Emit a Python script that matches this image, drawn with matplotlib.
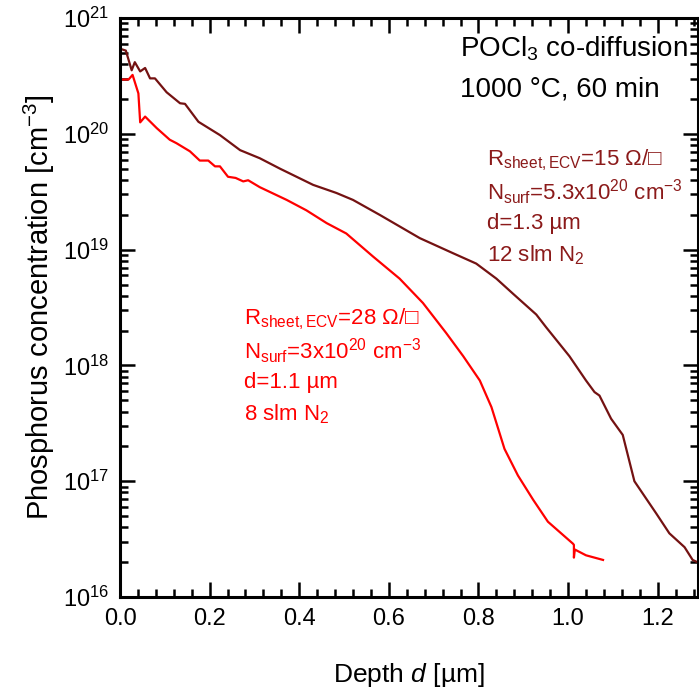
import matplotlib
matplotlib.use('Agg')
import matplotlib.pyplot as plt
from matplotlib.ticker import MultipleLocator, LogLocator, NullFormatter

plt.rcParams['font.family'] = ['Liberation Sans', 'DejaVu Sans']
plt.rcParams['mathtext.fontset'] = 'custom'
plt.rcParams['mathtext.rm'] = 'Liberation Sans'
plt.rcParams['mathtext.it'] = 'Liberation Sans:italic'
plt.rcParams['mathtext.fallback'] = 'stix'

# Profil ECV, 12 slm N2 (dunkelrot)
depth_12 = [0.005, 0.013, 0.026, 0.033, 0.045, 0.056, 0.067, 0.078, 0.104, 0.134,
            0.145, 0.175, 0.223, 0.268, 0.312, 0.357, 0.431, 0.483, 0.52, 0.58,
            0.669, 0.743, 0.795, 0.84, 0.877, 0.929, 0.951, 1.003, 1.04, 1.059,
            1.07, 1.096, 1.122, 1.148, 1.197, 1.226, 1.26, 1.278, 1.289]
logc_12 = [20.73, 20.72, 20.55, 20.62, 20.54, 20.57, 20.48, 20.48, 20.36, 20.265,
           20.26, 20.105, 19.99, 19.86, 19.79, 19.70, 19.56, 19.49, 19.43, 19.30,
           19.10, 18.97, 18.88, 18.75, 18.62, 18.44, 18.33, 18.08, 17.87, 17.77,
           17.74, 17.54, 17.40, 17.00, 16.72, 16.55, 16.43, 16.32, 16.30]

# Profil ECV, 8 slm N2 (rot)
depth_8 = [0.005, 0.019, 0.028, 0.041, 0.045, 0.056, 0.082, 0.111, 0.126, 0.156,
           0.178, 0.197, 0.212, 0.223, 0.241, 0.258, 0.275, 0.286, 0.312, 0.372,
           0.416, 0.461, 0.505, 0.565, 0.624, 0.676, 0.728, 0.766, 0.803, 0.829,
           0.858, 0.888, 0.922, 0.955, 1.011, 1.013, 1.013, 1.015, 1.04, 1.078]
logc_8 = [20.47, 20.47, 20.51, 20.35, 20.10, 20.15, 20.05, 19.95, 19.92, 19.85,
          19.77, 19.77, 19.72, 19.72, 19.63, 19.62, 19.59, 19.60, 19.54, 19.43,
          19.34, 19.23, 19.14, 18.94, 18.75, 18.54, 18.28, 18.08, 17.87, 17.64,
          17.28, 17.05, 16.84, 16.65, 16.46, 16.45, 16.34, 16.41, 16.36, 16.32]

conc_12 = [10 ** v for v in logc_12]
conc_8 = [10 ** v for v in logc_8]

dark = '#741212'
dark_txt = '#8b1a1a'
red = '#ff0000'

fig = plt.figure(figsize=(6.99, 6.94), dpi=100)
ax = fig.add_axes([0.1717, 0.1398, 0.8269, 0.834])

ax.plot(depth_12, conc_12, color=dark, lw=1.6)
ax.plot(depth_8, conc_8, color=red, lw=1.6)

ax.set_yscale('log')
ax.set_xlim(0, 1.29)
ax.set_ylim(1e16, 1e21)

ax.xaxis.set_major_locator(MultipleLocator(0.2))
ax.xaxis.set_minor_locator(MultipleLocator(0.04))
ax.yaxis.set_major_locator(LogLocator(base=10, numticks=10))
ax.yaxis.set_minor_locator(LogLocator(base=10, subs=range(2, 10), numticks=10))
ax.yaxis.set_minor_formatter(NullFormatter())
ax.xaxis.set_major_formatter(plt.FuncFormatter(lambda v, p: '%.1f' % v))

ax.tick_params(which='both', direction='in', top=True, right=True, width=1.8, labelsize=17)
ax.tick_params(which='major', length=11, pad=8)
ax.tick_params(which='minor', length=6)
for s in ax.spines.values():
    s.set_linewidth(2.2)

ax.set_xlabel('Depth $d$ [µm]', fontsize=19, labelpad=22)
ax.set_ylabel('Phosphorus concentration [cm$^{-3}$]', fontsize=21, labelpad=4)

ax.text(0.588, 0.948, 'POCl$_3$ co-diffusion', transform=ax.transAxes, ha='left', va='center', fontsize=20)
ax.text(0.588, 0.876, '1000 °C, 60 min', transform=ax.transAxes, ha='left', va='center', fontsize=20)

dark_lines = ['R$_{\\mathrm{sheet,ECV}}$=15 Ω/□',
              'N$_{\\mathrm{surf}}$=5.3x10$^{20}$ cm$^{-3}$',
              'd=1.3 µm',
              '12 slm N$_2$']
red_lines = ['R$_{\\mathrm{sheet,ECV}}$=28 Ω/□',
             'N$_{\\mathrm{surf}}$=3x10$^{20}$ cm$^{-3}$',
             'd=1.1 µm',
             '8 slm N$_2$']

for i, t in enumerate(dark_lines):
    ax.text(0.635, 0.755 - i * 0.055, t, transform=ax.transAxes, ha='left', va='center',
            fontsize=16, color=dark_txt)
for i, t in enumerate(red_lines):
    ax.text(0.215, 0.48 - i * 0.055, t, transform=ax.transAxes, ha='left', va='center',
            fontsize=16, color=red)

fig.savefig('out.png', dpi=100)
